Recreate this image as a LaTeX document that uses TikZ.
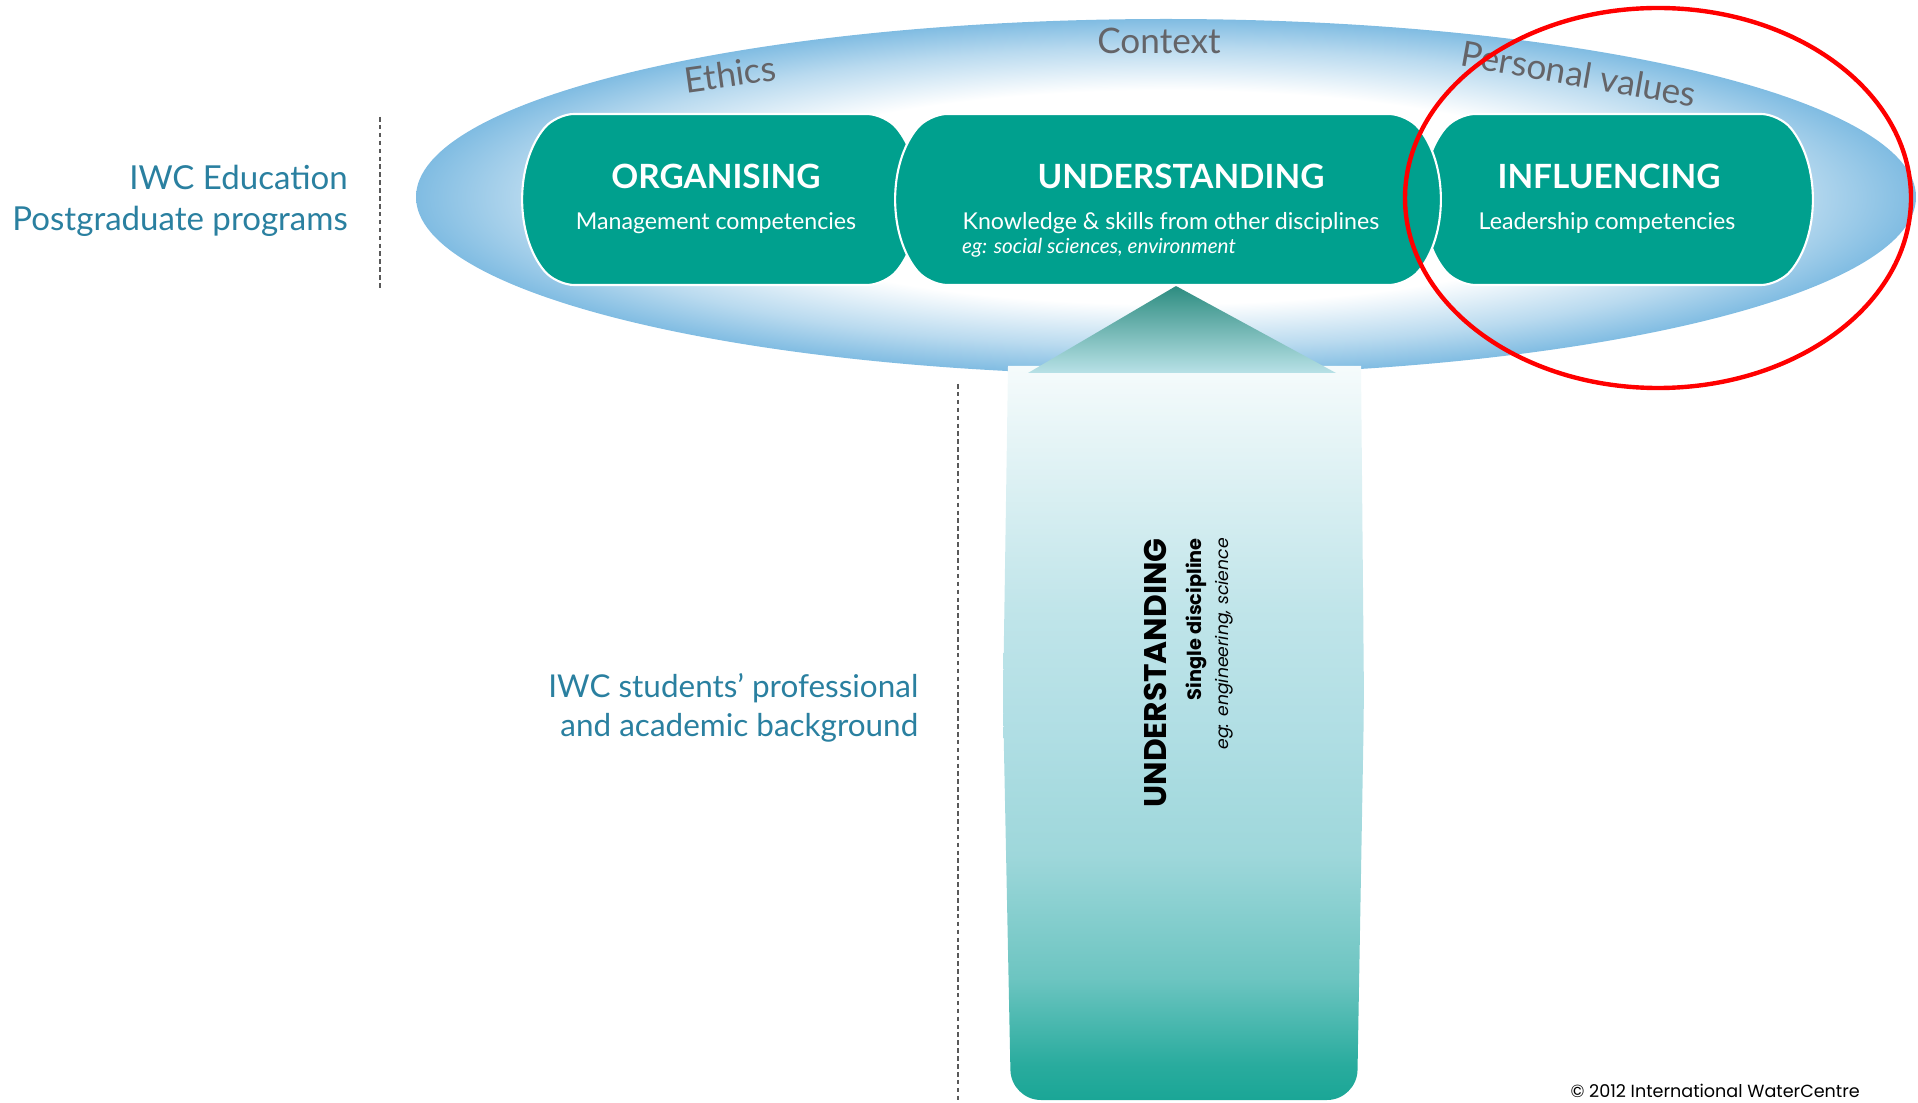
\documentclass[tikz,border=0pt]{standalone}
\usepackage{fontspec}
\setmainfont{Lato}
\newfontfamily\gothic{Poppins}
\usetikzlibrary{shapes.misc, positioning}
\newcommand{\unitsize}{0.2cm}
\definecolor{boxteal}{RGB}{0,160,142}
\definecolor{rimblue}{RGB}{128,188,226}
\definecolor{labelblue}{RGB}{42,128,160}
\definecolor{ringgray}{RGB}{100,100,104}
\definecolor{aqua}{RGB}{176,222,228}
\definecolor{deepteal}{RGB}{26,166,150}
\definecolor{tipteal}{RGB}{45,140,128}
\pgfdeclareradialshading{rimshade}{\pgfpoint{0bp}{0bp}}{color(0bp)=(white); color(15bp)=(white); color(21bp)=(rimblue!55); color(25bp)=(rimblue); color(50bp)=(rimblue)}
\pgfdeclareverticalshading{shaftshade}{100bp}{color(0bp)=(deepteal); color(25bp)=(deepteal);
  color(27.4bp)=(deepteal!90!aqua); color(33.3bp)=(deepteal!45!aqua); color(41.7bp)=(aqua!88!deepteal);
  color(50bp)=(aqua); color(58.4bp)=(aqua!80!white); color(67bp)=(aqua!45!white); color(75bp)=(aqua!12!white); color(100bp)=(aqua!12!white)}

\begin{document}
\begin{tikzpicture}
\useasboundingbox (0,0) rectangle (191.8*\unitsize,110.2*\unitsize);
\tikzstyle{box}=[rounded rectangle,
			rounded rectangle arc length=80,
			rounded corners=1.8*\unitsize,
			fill=boxteal,
			draw=white,
			line width=1.2pt,
			minimum height=17.1*\unitsize,
			inner sep=0pt
			]
\tikzstyle{title}=[text=white, font=\fontsize{19}{22}\selectfont\bfseries]
\tikzstyle{sub}=[text=white, font=\fontsize{13.2}{15}\selectfont]
\tikzstyle{ring}=[text=ringgray, font=\fontsize{20}{23}\selectfont]
\tikzstyle{side}=[text=labelblue, font=\fontsize{18.6}{23}\selectfont, align=right, anchor=east]
\tikzstyle{guide}=[gray!70!black, line width=1.6pt, dash pattern=on 2.6pt off 1.9pt]
\tikzstyle{upright}=[rotate=90, anchor=east, font=\gothic]

% outer ellipse
\shade[shading=rimshade] (116.6*\unitsize,90.5*\unitsize) ellipse [x radius=75*\unitsize, y radius=17.8*\unitsize];

\node[ring, rotate=8] (ethics) at (73.0*\unitsize,102.8*\unitsize) {Ethics};
\node[ring] (context) at (115.9*\unitsize,106.1*\unitsize) {Context};
\node[ring, rotate=-10] (values) at (157.9*\unitsize,102.8*\unitsize) {Personal values};

% arrow
\shade[shading=shaftshade]
  (100.8*\unitsize,73.6*\unitsize) -- (100.3*\unitsize,40*\unitsize) [rounded corners=3*\unitsize] -- (101.1*\unitsize,0.2*\unitsize)
  -- (135.7*\unitsize,0.2*\unitsize) -- (136.4*\unitsize,40*\unitsize) [sharp corners] -- (136.1*\unitsize,73.6*\unitsize) -- cycle;
\shade[top color=tipteal, bottom color=aqua!90] (117.6*\unitsize,81.6*\unitsize)
  -- (133.6*\unitsize,72.9*\unitsize) -- (102.8*\unitsize,72.9*\unitsize) -- cycle;

% boxes
\node[box, minimum width=39.1*\unitsize] (org) at (72.05*\unitsize,90.25*\unitsize) {};
\node[box, minimum width=38.4*\unitsize] (inf) at (161.8*\unitsize,90.25*\unitsize) {};
\node[box, minimum width=54.0*\unitsize] (und) at (116.8*\unitsize,90.25*\unitsize) {};

\node[title] (orgT) at (71.6*\unitsize,92.6*\unitsize) {ORGANISING};
\node[sub] (orgS) at (71.6*\unitsize,87.9*\unitsize) {Management competencies};
\node[title] (undT) at (118.1*\unitsize,92.6*\unitsize) {UNDERSTANDING};
\node[sub] (undS) at (117.1*\unitsize,87.9*\unitsize) {Knowledge \& skills from other disciplines};
\node[sub, anchor=west, font=\fontsize{11.8}{13}\selectfont\itshape] (undE) at (95.6*\unitsize,85.4*\unitsize) {eg: social sciences, environment};
\node[title] (infT) at (160.9*\unitsize,92.6*\unitsize) {INFLUENCING};
\node[sub] (infS) at (160.7*\unitsize,87.9*\unitsize) {Leadership competencies};

% vertical labels
\node[upright, font=\gothic\fontsize{17.8}{20}\selectfont\bfseries] (base) at (115.5*\unitsize,57.0*\unitsize) {UNDERSTANDING};
\node[upright, font=\gothic\fontsize{11}{13}\selectfont\bfseries] (baseS) at (119.6*\unitsize,57.0*\unitsize) {Single discipline};
\node[upright, font=\gothic\fontsize{9.8}{12}\selectfont\itshape] (baseE) at (122.4*\unitsize,57.0*\unitsize) {eg: engineering, science};

% side notes
\draw[guide] (38.0*\unitsize,98.5*\unitsize) -- (38.0*\unitsize,81.3*\unitsize);
\draw[guide] (95.8*\unitsize,71.8*\unitsize) -- (95.8*\unitsize,0*\unitsize);
\node[side, font=\fontsize{18.8}{23.5}\selectfont] (edu) at (35.4*\unitsize,90.1*\unitsize) {IWC Education\\Postgraduate programs};
\node[side, font=\fontsize{17.9}{22.5}\selectfont] (bg) at (92.45*\unitsize,39.4*\unitsize) {IWC students’ professional\\and academic background};

% highlight
\draw[red, line width=2.5pt] (165.8*\unitsize,90.4*\unitsize) ellipse [x radius=25.3*\unitsize, y radius=19.0*\unitsize];

\node[anchor=east, font=\gothic\fontsize{10}{12}\selectfont] (copy) at (186.6*\unitsize,1.1*\unitsize) {© 2012 International WaterCentre};

\end{tikzpicture}
\end{document}
